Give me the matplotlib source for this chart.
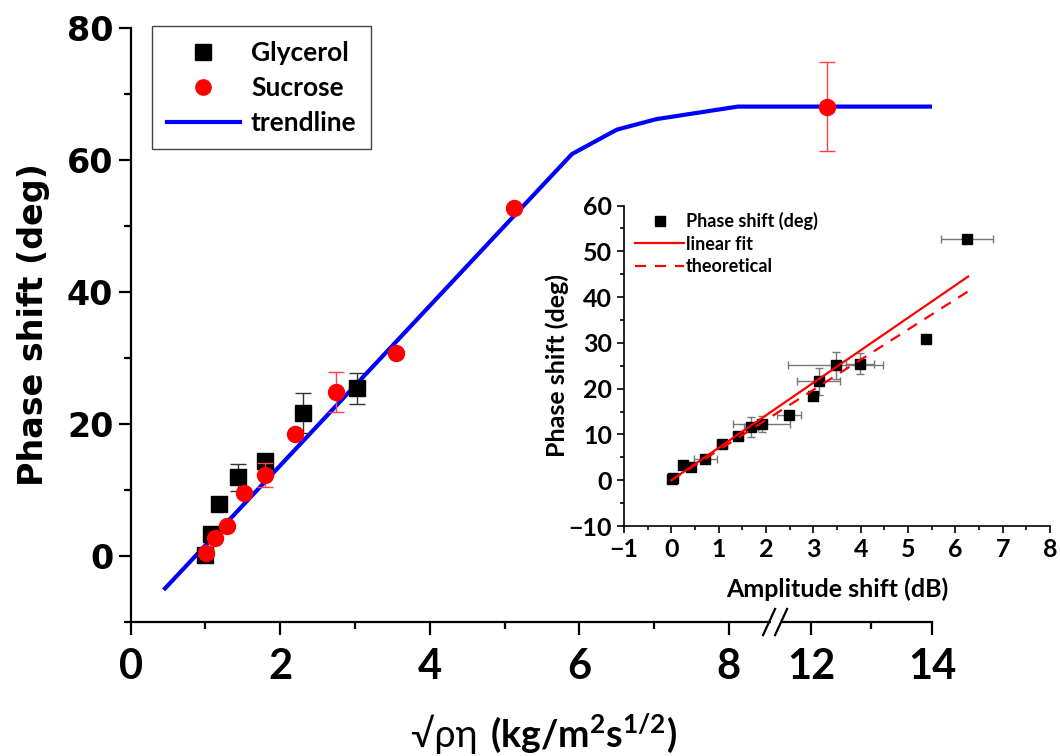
import numpy as np
import matplotlib
matplotlib.use('Agg')
import matplotlib.pyplot as plt
from matplotlib.lines import Line2D

# main plot data
gly_x = [0.99, 1.07, 1.18, 1.44, 1.79, 2.30, 3.03]
gly_y = [0.1, 3.4, 7.9, 11.9, 14.4, 21.7, 25.4]
gly_err = [0.5, 0.5, 0.5, 2.1, 0.8, 3.0, 2.3]

suc_x = [1.01, 1.13, 1.29, 1.51, 1.80, 2.20, 2.75, 3.55, 5.12, 12.26]
suc_y = [0.5, 2.8, 4.5, 9.6, 12.3, 18.5, 24.9, 30.8, 52.7, 68.1]
suc_err = [0.5, 0.3, 0.3, 0.3, 1.8, 0.3, 3.0, 0.3, 0.3, 6.7]

trend_x = [0.46, 5.90, 6.50, 7.03, 8.12, 14.0]
trend_y = [-4.9, 60.9, 64.6, 66.2, 68.1, 68.1]

# inset data
amp = [0.01, 0.04, 0.24, 0.41, 0.72, 1.07, 1.41, 1.68, 1.91, 2.49, 2.99, 3.11, 3.47, 3.99, 5.39, 6.24]
amp_err = [0.02, 0.02, 0.05, 0.05, 0.25, 0.1, 0.1, 0.15, 0.6, 0.25, 0.05, 0.45, 1.0, 0.3, 0.0, 0.55]
phase = [0.2, 0.5, 3.4, 2.9, 4.6, 7.9, 9.7, 11.7, 12.3, 14.3, 18.5, 21.6, 25.1, 25.4, 30.8, 52.7]
phase_err = [0.3, 0.3, 0.3, 0.3, 0.5, 0.5, 0.5, 2.2, 1.7, 0.5, 0.5, 3.0, 2.9, 2.3, 0.0, 0.5]

fit_x = [0.0, 6.27]
fit_y = [0.0, 44.5]
theo_x = [0.0, 6.29]
theo_y = [0.0, 41.4]

# broken x axis: 8.5 .. 11.3 squeezed away
BRK_IN = [-100.0, 0.0, 8.5, 11.3, 14.0, 100.0]
BRK_OUT = [-100.0, 0.0, 8.5, 8.53, 8.53 + 2.7 * 0.81, 8.53 + 88.7 * 0.81]


def fwd(x):
    return np.interp(x, BRK_IN, BRK_OUT)


def inv(x):
    return np.interp(x, BRK_OUT, BRK_IN)


BOLD = ['Lato', 'DejaVu Sans']
plt.rcParams['mathtext.default'] = 'regular'

fig = plt.figure(figsize=(10.6, 7.56), dpi=100)
ax = fig.add_axes([0.1233, 0.1772, 0.756, 0.7857])
ax.set_xscale('function', functions=(fwd, inv))

ax.plot(trend_x, trend_y, color='#0000ff', lw=3, zorder=2)
ax.errorbar(gly_x, gly_y, yerr=gly_err, fmt='s', color='black', ms=12,
            ecolor='#333333', elinewidth=1, capsize=6, capthick=1, zorder=3)
ax.errorbar(suc_x, suc_y, yerr=suc_err, fmt='o', color='#ff0000', ms=11.5,
            ecolor='#ff4444', elinewidth=1, capsize=6, capthick=1, zorder=4)

ax.set_xlim(0, 14)
ax.set_ylim(-10, 80)
ax.set_xticks([0, 2, 4, 6, 8, 12, 14])
ax.set_xticks([1, 3, 5, 7, 13], minor=True)
ax.set_yticks([0, 20, 40, 60, 80])
ax.set_yticks([-10, 10, 30, 50, 70], minor=True)
for s in ['top', 'right']:
    ax.spines[s].set_visible(False)
for s in ['left', 'bottom']:
    ax.spines[s].set_linewidth(1.6)
ax.tick_params(which='major', direction='out', length=9, width=1.6)
ax.tick_params(which='minor', direction='out', length=5, width=1.6)
ax.tick_params(axis='x', pad=10)
for lab in ax.get_yticklabels():
    lab.set_fontfamily('DejaVu Sans')
    lab.set_fontweight('bold')
    lab.set_fontsize(24)
for lab in ax.get_xticklabels():
    lab.set_fontfamily(BOLD)
    lab.set_fontweight('bold')
    lab.set_fontsize(30)
ax.set_ylabel('Phase shift (deg)', family='DejaVu Sans', weight='bold', fontsize=24, labelpad=12)

# break marks on the x axis
for cx in [0.7966, 0.8116]:
    ax.plot([cx - 0.0075, cx + 0.0075], [-0.022, 0.022], transform=ax.transAxes,
            color='black', lw=1.6, clip_on=False, zorder=6)
ax.plot([0.7985, 0.8097], [0, 0], transform=ax.transAxes, color='white', lw=3,
        clip_on=False, zorder=5, solid_capstyle='butt')

main_handles = [
    Line2D([], [], ls='none', marker='s', color='black', ms=11),
    Line2D([], [], ls='none', marker='o', color='#ff0000', ms=11),
    Line2D([], [], color='#0000ff', lw=3),
]
leg = ax.legend(main_handles, ['Glycerol', 'Sucrose', 'trendline'],
                loc='upper left', bbox_to_anchor=(0.0266, 1.003), borderaxespad=0,
                fancybox=False, edgecolor='#444444', framealpha=1, handlelength=2.8,
                prop={'family': BOLD, 'weight': 'bold', 'size': 19}, borderpad=0.55,
                labelspacing=0.42, handletextpad=0.4)
leg.get_frame().set_linewidth(1)

# x label: plain symbol part + bold units
fig.text(0.46, 0.012, '√ρη ', ha='right', va='baseline', family=BOLD, fontsize=27)
fig.text(0.462, 0.012, '(kg/m$^2$s$^{1/2}$)', ha='left', va='baseline', family=BOLD,
         weight='bold', fontsize=27)

# inset
ins = fig.add_axes([0.5887, 0.3042, 0.4019, 0.4239])
ins.errorbar(amp, phase, xerr=amp_err, yerr=phase_err, fmt='s', color='black', ms=6.5,
             ecolor='#777777', elinewidth=1, capsize=3, capthick=1, zorder=3)
ins.plot(fit_x, fit_y, color='#ff0000', lw=1.6, zorder=4)
ins.plot(theo_x, theo_y, color='#ff0000', lw=1.6, ls=(0, (5, 4)), zorder=4)
ins.set_xlim(-1, 8)
ins.set_ylim(-10, 60)
ins.set_xticks(range(-1, 9))
ins.set_xticks(np.arange(-0.5, 8, 1), minor=True)
ins.set_yticks(range(-10, 61, 10))
ins.set_yticks(range(-5, 60, 10), minor=True)
for s in ['top', 'right']:
    ins.spines[s].set_visible(False)
for s in ['left', 'bottom']:
    ins.spines[s].set_linewidth(1.2)
ins.tick_params(which='major', direction='out', length=5, width=1.2, labelsize=18)
ins.tick_params(which='minor', direction='out', length=3, width=1.2)
for lab in ins.get_xticklabels() + ins.get_yticklabels():
    lab.set_fontfamily(BOLD)
    lab.set_fontweight('bold')
ins.set_xlabel('Amplitude shift (dB)', family=BOLD, weight='bold', fontsize=18, labelpad=12)
ins.set_ylabel('Phase shift (deg)', family=BOLD, weight='bold', fontsize=18, labelpad=0)
ins_handles = [
    Line2D([], [], ls='none', marker='s', color='black', ms=6.5),
    Line2D([], [], color='#ff0000', lw=1.6),
    Line2D([], [], color='#ff0000', lw=1.6, ls=(0, (5, 4))),
]
ins.legend(ins_handles, ['Phase shift (deg)', 'linear fit', 'theoretical'],
           loc='upper left', bbox_to_anchor=(-0.012, 1.03), frameon=False, handlelength=2.7,
           handletextpad=0.1, labelspacing=0.3,
           prop={'family': BOLD, 'weight': 'bold', 'size': 13})

fig.savefig('out.png', dpi=100)
